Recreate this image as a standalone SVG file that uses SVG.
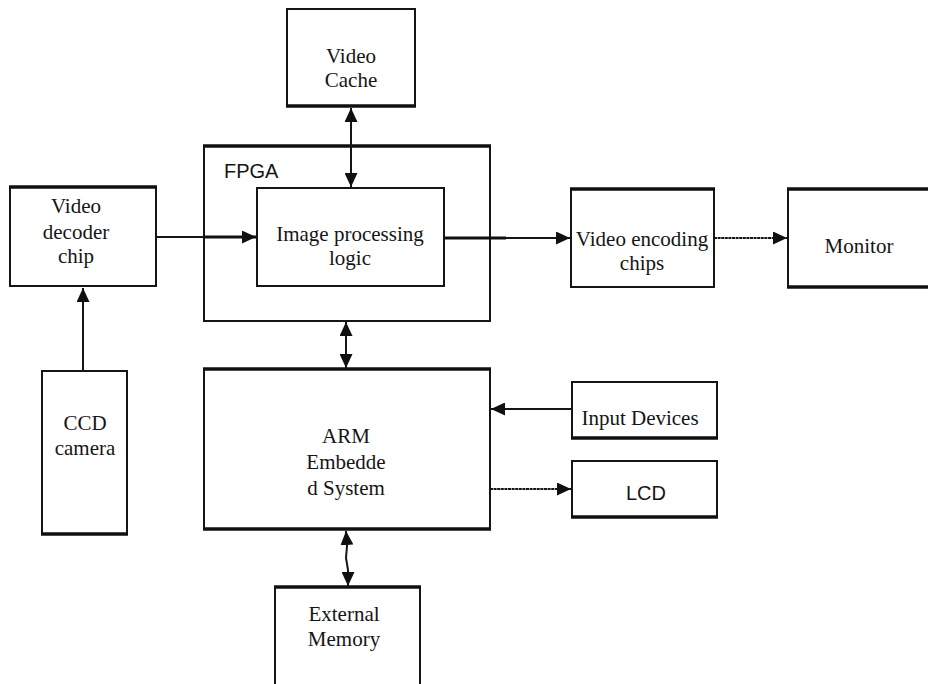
<svg xmlns="http://www.w3.org/2000/svg" width="928" height="684" viewBox="0 0 928 684">
  <style>
    .box { fill: #ffffff; stroke: #151515; stroke-width: 2; }
    .heavy { stroke: #101010; stroke-width: 3.5; fill: none; }
    .wire { stroke: #151515; stroke-width: 2; fill: none; }
    .wire-thick { stroke: #101010; stroke-width: 3; fill: none; }
    .lbl { font-family: "Liberation Serif", "Times New Roman", serif; font-size: 21px; fill: #151515; text-anchor: middle; }
    .sans { font-family: "Liberation Sans", Arial, sans-serif; font-size: 20px; fill: #151515; }
  </style>
  <defs>
    <marker id="head" viewBox="0 0 14 13" refX="14" refY="6.5" markerWidth="14" markerHeight="13" markerUnits="userSpaceOnUse" orient="auto-start-reverse">
      <path d="M0,0 L14,6.5 L0,13 Z" fill="#101010"/>
    </marker>
  </defs>

  <rect width="928" height="684" fill="#ffffff"/>

  <!-- FPGA container -->
  <g id="fpga">
    <rect class="box" x="204" y="146" width="286" height="175"/>
    <line class="heavy" x1="203" y1="146" x2="491" y2="146"/>
    <text class="sans" x="224" y="178">FPGA</text>
  </g>

  <g id="video-cache">
    <rect class="box" x="287" y="9" width="128" height="97"/>
    <line class="heavy" x1="286" y1="106" x2="416" y2="106"/>
    <text class="lbl" x="351" y="63">Video</text>
    <text class="lbl" x="351" y="87">Cache</text>
  </g>

  <g id="video-decoder">
    <rect class="box" x="10" y="187" width="146" height="99"/>
    <line class="heavy" x1="9" y1="187" x2="157" y2="187"/>
    <text class="lbl" x="76" y="213">Video</text>
    <text class="lbl" x="76" y="239">decoder</text>
    <text class="lbl" x="76" y="263">chip</text>
  </g>

  <g id="image-processing">
    <rect class="box" x="257" y="188" width="187" height="98"/>
    <text class="lbl" x="350" y="241">Image processing</text>
    <text class="lbl" x="350" y="265">logic</text>
  </g>

  <g id="video-encoding">
    <rect class="box" x="571" y="189" width="143" height="98"/>
    <line class="heavy" x1="570" y1="189" x2="715" y2="189"/>
    <text class="lbl" x="642" y="246">Video encoding</text>
    <text class="lbl" x="642" y="270">chips</text>
  </g>

  <g id="monitor">
    <rect class="box" x="788" y="189" width="160" height="98"/>
    <line class="heavy" x1="787" y1="189" x2="928" y2="189"/>
    <line class="heavy" x1="787" y1="287" x2="928" y2="287"/>
    <text class="lbl" x="859" y="253">Monitor</text>
  </g>

  <g id="ccd-camera">
    <rect class="box" x="42" y="371" width="85" height="163"/>
    <line class="heavy" x1="41" y1="534" x2="128" y2="534"/>
    <text class="lbl" x="85" y="430">CCD</text>
    <text class="lbl" x="85" y="455">camera</text>
  </g>

  <g id="arm-system">
    <rect class="box" x="204" y="369" width="286" height="160"/>
    <line class="heavy" x1="203" y1="369" x2="491" y2="369"/>
    <line class="heavy" x1="203" y1="529" x2="491" y2="529"/>
    <text class="lbl" x="346" y="443">ARM</text>
    <text class="lbl" x="346" y="469">Embedde</text>
    <text class="lbl" x="346" y="495">d System</text>
  </g>

  <g id="input-devices">
    <rect class="box" x="572" y="382" width="145" height="56"/>
    <line class="heavy" x1="571" y1="438" x2="718" y2="438"/>
    <text class="lbl" x="640" y="425">Input Devices</text>
  </g>

  <g id="lcd">
    <rect class="box" x="572" y="461" width="145" height="56"/>
    <line class="heavy" x1="571" y1="517" x2="718" y2="517"/>
    <text class="sans" x="646" y="500" text-anchor="middle">LCD</text>
  </g>

  <g id="external-memory">
    <rect class="box" x="275" y="587" width="145" height="120"/>
    <line class="heavy" x1="274" y1="587" x2="421" y2="587"/>
    <text class="lbl" x="344" y="621">External</text>
    <text class="lbl" x="344" y="646">Memory</text>
  </g>

  <!-- connectors -->
  <g id="connectors">
    <!-- cache <-> image processing -->
    <line class="wire" x1="351" y1="108" x2="351" y2="187" marker-start="url(#head)" marker-end="url(#head)"/>
    <!-- decoder -> image processing -->
    <line class="wire" x1="156" y1="237" x2="206" y2="237"/>
    <line class="wire-thick" x1="205" y1="237" x2="256" y2="237" marker-end="url(#head)"/>
    <!-- image processing -> encoder -->
    <line class="wire-thick" x1="444" y1="238" x2="506" y2="238"/>
    <line class="wire" x1="505" y1="238" x2="570" y2="238" marker-end="url(#head)"/>
    <!-- encoder -> monitor -->
    <line class="wire" x1="714" y1="238" x2="787" y2="238" stroke-dasharray="3 0.6" marker-end="url(#head)"/>
    <!-- camera -> decoder -->
    <line class="wire" x1="83" y1="371" x2="83" y2="288" marker-end="url(#head)"/>
    <!-- FPGA <-> ARM -->
    <line class="wire" x1="346" y1="322" x2="346" y2="368" marker-start="url(#head)" marker-end="url(#head)"/>
    <!-- input devices -> ARM -->
    <line class="wire" x1="572" y1="409" x2="491" y2="409" marker-end="url(#head)"/>
    <!-- ARM -> LCD -->
    <line class="wire" x1="490" y1="489" x2="571" y2="489" stroke-dasharray="3 0.6" marker-end="url(#head)"/>
    <!-- ARM <-> external memory -->
    <path class="wire" d="M346,531 L347,546 L346,558 L348,570 L348,586" marker-start="url(#head)" marker-end="url(#head)"/>
  </g>
</svg>
